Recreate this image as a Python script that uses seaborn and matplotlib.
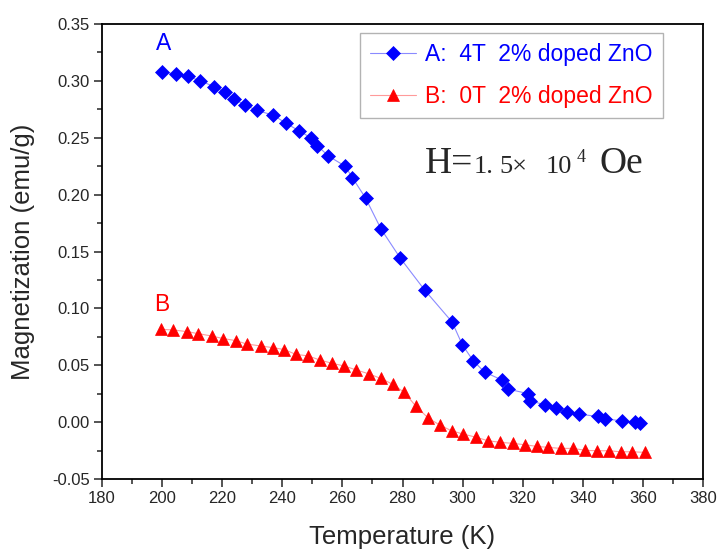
import matplotlib
matplotlib.use("Agg")
import matplotlib.pyplot as plt
import numpy as np
import pandas as pd
import seaborn as sns
from matplotlib.ticker import MultipleLocator, FormatStrFormatter

# series A: 4T, 2% doped ZnO
temp_a = [199.8, 204.5, 208.5, 212.7, 217.3, 220.9, 223.9, 227.5, 231.5, 236.9,
          241.1, 245.6, 249.5, 251.7, 255.3, 260.9, 263.3, 267.7, 272.8, 279.3,
          287.4, 296.5, 299.9, 303.5, 307.3, 313.1, 315.2, 321.8, 322.3, 327.5,
          331.2, 334.8, 338.8, 344.9, 347.5, 353.0, 357.4, 359.0]
mag_a = [0.308, 0.306, 0.304, 0.300, 0.295, 0.290, 0.284, 0.279, 0.274, 0.270,
         0.263, 0.256, 0.250, 0.243, 0.234, 0.225, 0.215, 0.197, 0.170, 0.144,
         0.116, 0.088, 0.068, 0.054, 0.044, 0.037, 0.029, 0.025, 0.019, 0.015,
         0.012, 0.009, 0.007, 0.005, 0.003, 0.001, 0.000, -0.001]

# series B: 0T, 2% doped ZnO
temp_b = [199.5, 203.7, 208.2, 212.0, 216.5, 220.4, 224.5, 228.1, 232.9, 236.8,
          240.6, 244.5, 248.6, 252.5, 256.4, 260.5, 264.6, 268.7, 272.7, 276.7,
          280.6, 284.5, 288.6, 292.4, 296.3, 300.2, 304.6, 308.5, 312.6, 316.8,
          320.7, 324.6, 328.4, 332.6, 336.8, 340.8, 344.8, 348.7, 352.6, 356.5,
          360.6]
mag_b = [0.0816, 0.0810, 0.0796, 0.0778, 0.0757, 0.0734, 0.0717, 0.0687, 0.0669, 0.0655,
         0.0638, 0.0596, 0.0582, 0.0546, 0.0518, 0.0494, 0.0459, 0.0425, 0.0385, 0.0333,
         0.0261, 0.0138, 0.0035, -0.0026, -0.0076, -0.0105, -0.0134, -0.0164, -0.0178, -0.0187,
         -0.0199, -0.0213, -0.0222, -0.0231, -0.0231, -0.0248, -0.0252, -0.0252, -0.0261, -0.0261,
         -0.0266]

labels = ["A:  4T  2% doped ZnO", "B:  0T  2% doped ZnO"]

sns.set_style("ticks")
plt.rcParams['font.family'] = ['Liberation Sans', 'DejaVu Sans']
plt.rcParams['axes.unicode_minus'] = False

fig = plt.figure(figsize=(7.17, 5.51), dpi=100)
ax = fig.add_axes([0.1423, 0.1307, 0.8382, 0.8257])

df_a = pd.DataFrame({'T': temp_a, 'M': mag_a})
df_b = pd.DataFrame({'T': temp_b, 'M': mag_b})

sns.lineplot(data=df_a, x='T', y='M', ax=ax, estimator=None, sort=False,
             color='#8a8aff', linewidth=0.8, marker='D', markersize=7,
             markerfacecolor='blue', markeredgecolor='blue', markeredgewidth=0.5,
             label=labels[0])
sns.lineplot(data=df_b, x='T', y='M', ax=ax, estimator=None, sort=False,
             color='#ff9a9a', linewidth=0.8, marker='^', markersize=8.5,
             markerfacecolor='red', markeredgecolor='red', markeredgewidth=0.5,
             label=labels[1])

ax.set_xlim(180, 380)
ax.set_ylim(-0.05, 0.35)
ax.xaxis.set_major_locator(MultipleLocator(20))
ax.xaxis.set_minor_locator(MultipleLocator(10))
ax.yaxis.set_major_locator(MultipleLocator(0.05))
ax.yaxis.set_minor_locator(MultipleLocator(0.025))
ax.yaxis.set_major_formatter(FormatStrFormatter('%.2f'))
ax.tick_params(which='major', direction='out', length=6, width=1.1, labelsize=12, pad=3)
ax.tick_params(which='minor', direction='out', length=3.5, width=1.1)
ax.tick_params(top=False, right=False, which='both')
for sp in ax.spines.values():
    sp.set_visible(True)
    sp.set_linewidth(1.3)
    sp.set_color('black')

ax.set_xlabel('Temperature (K)', fontsize=18.5, labelpad=13)
ax.set_ylabel('Magnetization (emu/g)', fontsize=18.5, labelpad=12)

leg = ax.legend(loc='upper right', bbox_to_anchor=(0.933, 0.980), borderaxespad=0,
                fontsize=16.5, frameon=True, fancybox=False, handlelength=2.0,
                borderpad=0.45, labelspacing=0.8, handletextpad=0.4)
leg.get_frame().set_edgecolor('#a0a0a0')
leg.get_frame().set_linewidth(1.0)
for txt, c in zip(leg.get_texts(), ['blue', 'red']):
    txt.set_color(c)

ax.text(200.4, 0.333, 'A', color='blue', fontsize=16.5, ha='center', va='center')
ax.text(199.9, 0.1035, 'B', color='red', fontsize=16.5, ha='center', va='center')

# field annotation, pieces set in axes fraction
serif = ['Liberation Serif', 'DejaVu Serif']
base_y = 0.6725
ax.text(0.537, base_y, 'H=', transform=ax.transAxes, fontsize=27, family=serif, va='baseline')
ax.text(0.618, base_y, '1.', transform=ax.transAxes, fontsize=19, family=serif, va='baseline')
ax.text(0.661, base_y, '5\u00d7', transform=ax.transAxes, fontsize=19, family=serif, va='baseline')
ax.text(0.739, base_y, '10', transform=ax.transAxes, fontsize=19, family=serif, va='baseline')
ax.text(0.789, 0.697, '4', transform=ax.transAxes, fontsize=13, family=serif, va='baseline')
ax.text(0.827, base_y, 'Oe', transform=ax.transAxes, fontsize=27, family=serif, va='baseline')

fig.savefig('out.png', dpi=100)
